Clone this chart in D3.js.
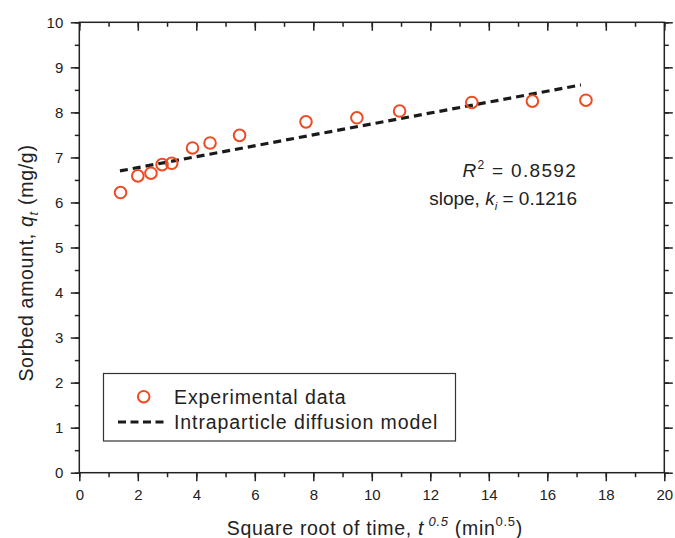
<!DOCTYPE html>
<html>
<head>
<meta charset="utf-8">
<script src="https://cdn.jsdelivr.net/npm/d3@7"></script>
<style>
  html, body { margin: 0; padding: 0; background: #fff; }
  svg { display: block; font-family: "Liberation Sans", Arial, sans-serif; }
</style>
</head>
<body>
<svg id="chart" width="675" height="538"></svg>
<script>
// Data
const sqrtTime = [1.41, 2.00, 2.45, 2.83, 3.16, 3.87, 4.47, 5.48, 7.75, 9.49, 10.95, 13.42, 15.49, 17.32];
const sorbed   = [6.22, 6.59, 6.65, 6.84, 6.87, 7.21, 7.32, 7.49, 7.79, 7.88, 8.03, 8.22, 8.25, 8.27];
const fitX = [1.39, 17.15];
const fitY = [6.70, 8.61];
const xTicks = [0, 2, 4, 6, 8, 10, 12, 14, 16, 18, 20];
const yTicks = [0, 1, 2, 3, 4, 5, 6, 7, 8, 9, 10];
const legendLabels = ["Experimental data", "Intraparticle diffusion model"];

(function () {
const svg = d3.select("#chart");
const mL = 79.3, mR = 664.3, mT = 22.3, mB = 472.7;
const x = d3.scaleLinear().domain([0, 20]).range([mL, mR]);
const y = d3.scaleLinear().domain([0, 10]).range([mB, mT]);

const axisColor = "#222";
const red = "#EE4B22";

// frame
svg.append("rect").attr("x", mL).attr("y", mT).attr("width", mR - mL).attr("height", mB - mT)
  .attr("fill", "none").attr("stroke", axisColor).attr("stroke-width", 1.5);

function styleAxis(g) {
  g.select(".domain").remove();
  g.selectAll("line").attr("stroke", axisColor).attr("stroke-width", 1.5);
  g.selectAll("text").attr("fill", "#222").style("font-size", "15px").style("font-family", "'Liberation Sans', Arial, sans-serif");
}

const xMinor = d3.range(0, 20.01, 1);
const yMinor = d3.range(0, 10.01, 0.5);
const MAJ = 8.5, MIN = 4.5;

// bottom axis: outward ticks
svg.append("g").attr("transform", `translate(0,${mB})`)
  .call(d3.axisBottom(x).tickValues(xMinor).tickSize(MIN).tickFormat("")).call(styleAxis);
svg.append("g").attr("transform", `translate(0,${mB})`)
  .call(d3.axisBottom(x).tickValues(xTicks).tickSize(MAJ).tickPadding(8.5).tickFormat(d3.format("d"))).call(styleAxis);
// top axis: inward ticks
svg.append("g").attr("transform", `translate(0,${mT})`)
  .call(d3.axisBottom(x).tickValues(xMinor).tickSize(MIN).tickFormat("")).call(styleAxis);
svg.append("g").attr("transform", `translate(0,${mT})`)
  .call(d3.axisBottom(x).tickValues(xTicks).tickSize(MAJ).tickFormat("")).call(styleAxis);
// left axis: outward ticks
svg.append("g").attr("transform", `translate(${mL},0)`)
  .call(d3.axisLeft(y).tickValues(yMinor).tickSize(MIN).tickFormat("")).call(styleAxis);
svg.append("g").attr("transform", `translate(${mL},0)`)
  .call(d3.axisLeft(y).tickValues(yTicks).tickSize(MAJ).tickPadding(7.5).tickFormat(d3.format("d"))).call(styleAxis);
// right axis: inward ticks
svg.append("g").attr("transform", `translate(${mR},0)`)
  .call(d3.axisLeft(y).tickValues(yMinor).tickSize(-MIN).tickFormat("")).call(styleAxis);
svg.append("g").attr("transform", `translate(${mR},0)`)
  .call(d3.axisLeft(y).tickValues(yTicks).tickSize(-MAJ).tickFormat("")).call(styleAxis);

// fit line
const line = d3.line().x((d, i) => x(fitX[i])).y((d, i) => y(fitY[i]));
svg.append("path").datum(fitX).attr("d", line)
  .attr("fill", "none").attr("stroke", "#1a1a1a").attr("stroke-width", 3.2)
  .attr("stroke-dasharray", "8,5");

// data points
svg.append("g").selectAll("circle").data(sqrtTime).join("circle")
  .attr("cx", d => x(d)).attr("cy", (d, i) => y(sorbed[i])).attr("r", 5.8)
  .attr("fill", "none").attr("stroke", red).attr("stroke-width", 2);

// annotation
const ann = svg.append("g").attr("fill", "#222");
const t1 = ann.append("text").attr("x", 577).attr("y", 177).attr("text-anchor", "end")
  .style("font-size", "19px").style("letter-spacing", "1.3px");
t1.append("tspan").attr("font-style", "italic").text("R");
t1.append("tspan").attr("dy", -8).style("font-size", "12px").text("2");
t1.append("tspan").attr("dy", 8).text(" = 0.8592");
const t2 = ann.append("text").attr("x", 577).attr("y", 205).attr("text-anchor", "end")
  .style("font-size", "19px");
t2.append("tspan").text("slope, ");
t2.append("tspan").attr("font-style", "italic").text("k");
t2.append("tspan").attr("dy", 5).style("font-size", "11.5px").attr("font-style", "italic").text("i");
t2.append("tspan").attr("dy", -5).text(" = 0.1216");

// legend
const lg = svg.append("g");
lg.append("rect").attr("x", 103.5).attr("y", 373.5).attr("width", 352).attr("height", 67.5)
  .attr("fill", "#fff").attr("stroke", "#333").attr("stroke-width", 1.2);
lg.append("circle").attr("cx", 143.7).attr("cy", 396.7).attr("r", 5.8)
  .attr("fill", "none").attr("stroke", red).attr("stroke-width", 2);
lg.append("line").attr("x1", 118).attr("x2", 164).attr("y1", 422).attr("y2", 422)
  .attr("stroke", "#1a1a1a").attr("stroke-width", 3.2).attr("stroke-dasharray", "8,4.5");
lg.selectAll("text").data(legendLabels).join("text")
  .attr("x", 174).attr("y", (d, i) => 403.5 + i * 25.5)
  .style("font-size", "19.5px").style("letter-spacing", "0.9px").attr("fill", "#222").text(d => d);

// axis titles
const xt = svg.append("text").attr("x", (mL + mR) / 2 + 3).attr("y", 535).attr("text-anchor", "middle")
  .style("font-size", "19.5px").style("letter-spacing", "0.7px").attr("fill", "#222");
xt.append("tspan").text("Square root of time, ");
xt.append("tspan").attr("font-style", "italic").text("t");
xt.append("tspan").attr("dy", -9).style("font-size", "13px").attr("font-style", "italic").text(" 0.5");
xt.append("tspan").attr("dy", 9).text(" (min");
xt.append("tspan").attr("dy", -9).style("font-size", "13px").text("0.5");
xt.append("tspan").attr("dy", 9).text(")");

const yt = svg.append("text").attr("transform", `translate(33,263) rotate(-90)`)
  .attr("text-anchor", "middle").style("font-size", "19.5px").style("letter-spacing", "0.7px").attr("fill", "#222");
yt.append("tspan").text("Sorbed amount, ");
yt.append("tspan").attr("font-style", "italic").text("q");
yt.append("tspan").attr("dy", 5).style("font-size", "13px").attr("font-style", "italic").text("t");
yt.append("tspan").attr("dy", -5).text(" (mg/g)");
})();
</script>
</body>
</html>
